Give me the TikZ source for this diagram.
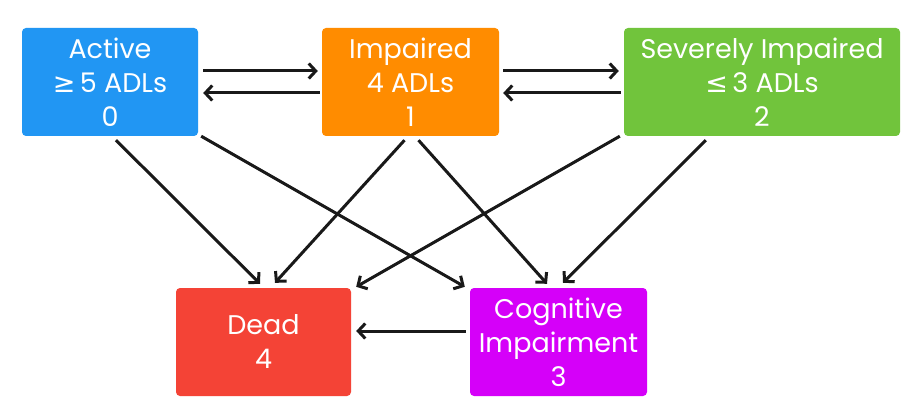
\documentclass[tikz,border=0pt]{standalone}
\usepackage{fontspec}
\setmainfont{Poppins}
\newfontfamily\symfont{DejaVu Sans}
\usetikzlibrary{arrows.meta}
\definecolor{cblue}{HTML}{2196F3}
\definecolor{corange}{HTML}{FF8C00}
\definecolor{cgreen}{HTML}{71C43C}
\definecolor{cred}{HTML}{F44336}
\definecolor{cmag}{HTML}{D500F9}
\tikzset{
  statebox/.style={rounded corners=4pt, minimum height=108pt, inner sep=0pt,
    text=white, align=center, font=\fontsize{27}{34}\selectfont},
  conn/.style={line width=3pt, black!90, -{Straight Barb[length=7pt,width=15pt,line width=3pt]}}
}
\begin{document}
\begin{tikzpicture}[x=1pt,y=-1pt]
\useasboundingbox (0,0) rectangle (924,414);
\fill[white] (0,0) rectangle (924,414);
\node[statebox, fill=cblue, minimum width=176pt] (a) at (110,82)
  {Active\\{\symfont≥}\,5 ADLs\hspace*{18pt}\\0};
\node[statebox, fill=corange, minimum width=177pt] (i) at (410.5,82)
  {Impaired\\4 ADLs\\1};
\node[statebox, fill=cgreen, minimum width=276pt] (s) at (762,82)
  {Severely Impaired\\{\symfont≤}\,3 ADLs\hspace*{34pt}\\2};
\node[statebox, fill=cred, minimum width=175pt] (d) at (263.5,342)
  {Dead\\4};
\node[statebox, fill=cmag, minimum width=177pt] (c) at (558.5,342)
  {Cognitive\\Impairment\\3};
% horizontal
\draw[conn] ([xshift=5pt,yshift=11pt]a.east) -- ([xshift=-4pt,yshift=11pt]i.west);
\draw[conn] ([xshift=-2pt,yshift=-11pt]i.west) -- ([xshift=5pt,yshift=-11pt]a.east);
\draw[conn] ([xshift=4pt,yshift=11pt]i.east) -- ([xshift=-5pt,yshift=11pt]s.west);
\draw[conn] ([xshift=-3pt,yshift=-11pt]s.west) -- ([xshift=4pt,yshift=-11pt]i.east);
\draw[conn] ([xshift=-4pt,yshift=11pt]c.west) -- ([xshift=5pt,yshift=11pt]d.east);
% diagonals
\draw[conn] ([xshift=6pt,yshift=-4pt]a.south) -- ([xshift=-3.5pt,yshift=4pt]d.north);
\draw[conn] ([xshift=3pt]a.south east) -- ([xshift=-5pt,yshift=1pt]c.north west);
\draw[conn] ([xshift=-6pt,yshift=-4pt]i.south) -- ([xshift=11.5pt,yshift=5pt]d.north);
\draw[conn] ([xshift=8pt,yshift=-4pt]i.south) -- ([xshift=-11.5pt,yshift=4pt]c.north);
\draw[conn] ([xshift=-4pt]s.south west) -- ([xshift=5pt,yshift=1pt]d.north east);
\draw[conn] ([xshift=82pt,yshift=-4pt]s.south west) -- ([xshift=4.5pt,yshift=5pt]c.north);
\end{tikzpicture}
\end{document}
